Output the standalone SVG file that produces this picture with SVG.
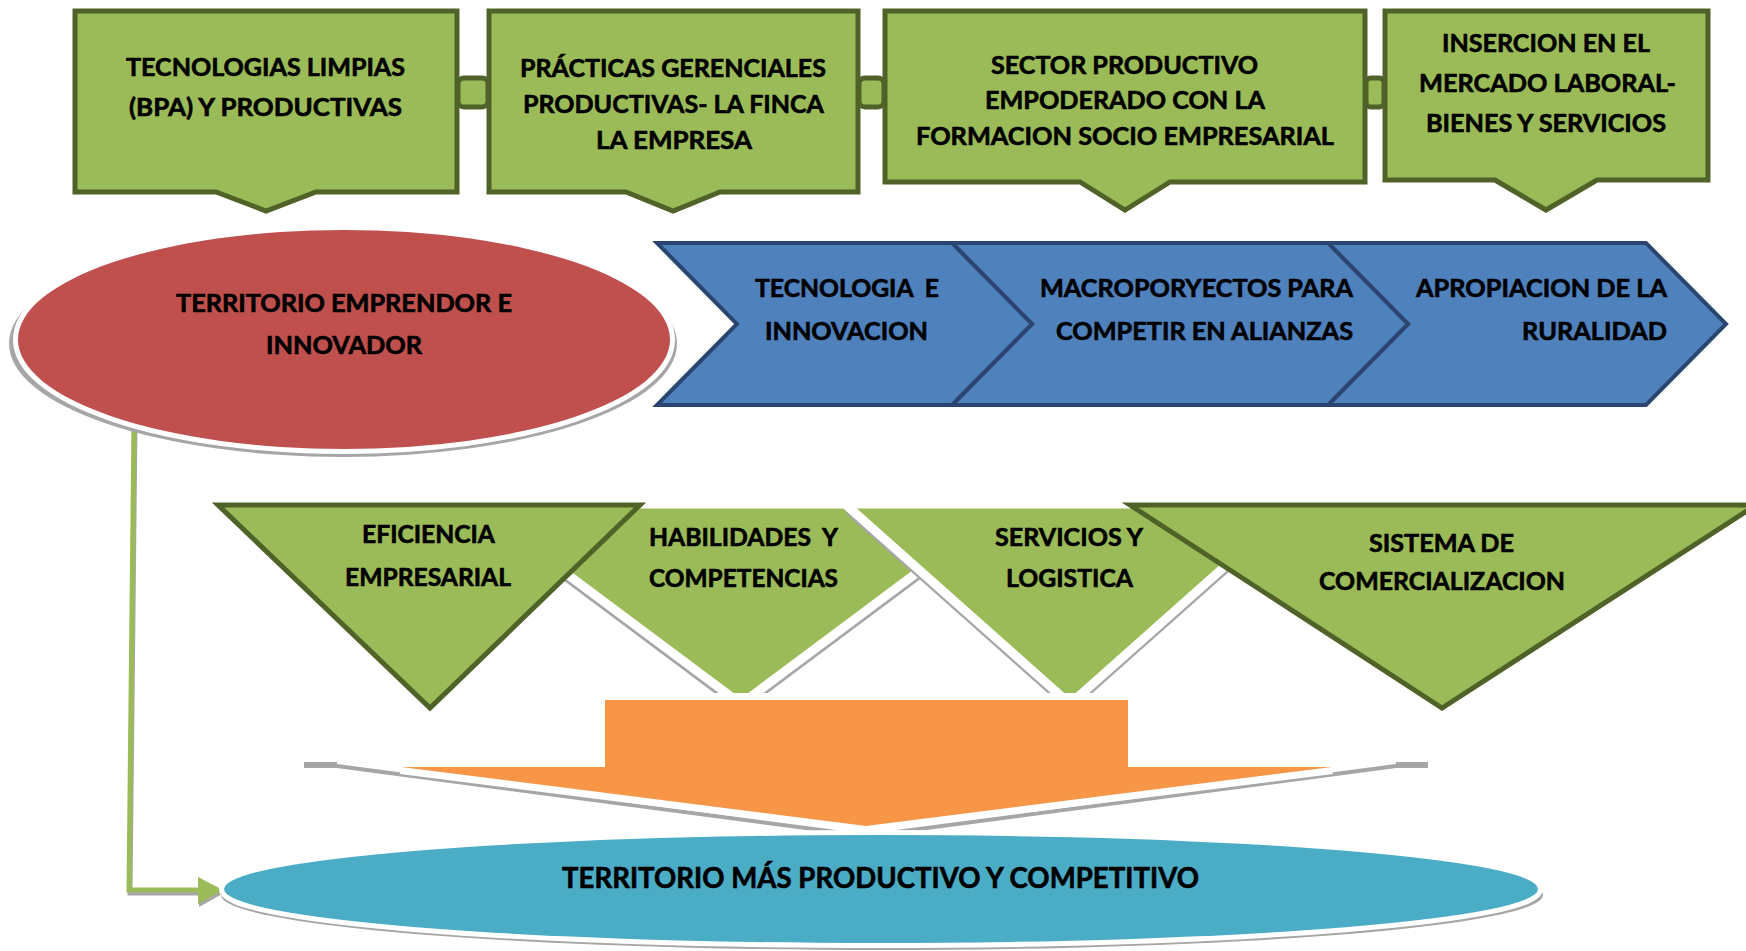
<svg xmlns="http://www.w3.org/2000/svg" width="1746" height="951" viewBox="0 0 1746 951">
<style>
.t{font-family:Lato,"Open Sans","Liberation Sans",sans-serif;font-weight:bold;font-size:24px;fill:#000;stroke:#000;stroke-width:0.6;white-space:pre}
.tb{font-size:28px}
.gbox{fill:#9BBB59;stroke:#4F6228;stroke-width:5;stroke-linejoin:miter}
.chev{fill:#4F81BD;stroke:#2A4670;stroke-width:4;stroke-linejoin:miter}
.tri2{fill:#9BBB59;stroke:#FFFFFF;stroke-width:9;stroke-linejoin:miter}
.shadow{fill:#A6A6A6}
.shline{fill:none;stroke:#A6A6A6;stroke-width:4}
</style>
<rect width="1746" height="951" fill="#FFFFFF"/>

<g id="connectors">
  <path d="M134,420 L129,890 L205,890" fill="none" stroke="#A6A6A6" stroke-width="5" transform="translate(1,3)"/>
  <polygon points="199,880 224,893 199,907" fill="#A6A6A6"/>
  <path d="M134,420 L129,890 L205,890" fill="none" stroke="#9BBB59" stroke-width="5"/>
  <polygon points="198,877 223,890 198,904" fill="#9BBB59"/>
</g>

<g id="node-territorio-emprendor">
  <ellipse cx="343" cy="343.5" rx="334" ry="113.5" class="shadow"/>
  <ellipse cx="344" cy="339.5" rx="326" ry="109.5" fill="#C0504D" stroke="#FFFFFF" stroke-width="10"/>
  <ellipse cx="344" cy="339.5" rx="326" ry="109.5" fill="#C0504D"/>
  <text class="t" x="176" y="312" textLength="336" lengthAdjust="spacingAndGlyphs">TERRITORIO EMPRENDOR E</text>
  <text class="t" x="266" y="353.5" textLength="156" lengthAdjust="spacingAndGlyphs">INNOVADOR</text>
</g>

<g id="node-box1">
  <path class="gbox" d="M75,11 H457 V192 H316 L266,211 L216,192 H75 Z"/>
  <text class="t" x="126" y="76" textLength="279" lengthAdjust="spacingAndGlyphs">TECNOLOGIAS LIMPIAS</text>
  <text class="t" x="129" y="116" textLength="273" lengthAdjust="spacingAndGlyphs">(BPA) Y PRODUCTIVAS</text>
</g>
<g id="node-box2">
  <path class="gbox" d="M489,11 H858 V192 H720 L673,211 L626,192 H489 Z"/>
  <text class="t" x="520" y="77" textLength="306" lengthAdjust="spacingAndGlyphs">PRÁCTICAS GERENCIALES</text>
  <text class="t" x="523" y="113" textLength="301" lengthAdjust="spacingAndGlyphs">PRODUCTIVAS- LA FINCA</text>
  <text class="t" x="596" y="149" textLength="156" lengthAdjust="spacingAndGlyphs">LA EMPRESA</text>
</g>
<g id="node-box3">
  <path class="gbox" d="M885,11 H1365 V182 H1170 L1125,210 L1080,182 H885 Z"/>
  <text class="t" x="991" y="73.5" textLength="267" lengthAdjust="spacingAndGlyphs">SECTOR PRODUCTIVO</text>
  <text class="t" x="985" y="109" textLength="280" lengthAdjust="spacingAndGlyphs">EMPODERADO CON LA</text>
  <text class="t" x="916" y="144.5" textLength="418" lengthAdjust="spacingAndGlyphs">FORMACION SOCIO EMPRESARIAL</text>
</g>
<g id="node-box4">
  <path class="gbox" d="M1385,11 H1708 V180 H1597 L1546,210 L1495,180 H1385 Z"/>
  <text class="t" x="1442" y="51.5" textLength="208" lengthAdjust="spacingAndGlyphs">INSERCION EN EL</text>
  <text class="t" x="1419" y="92" textLength="257" lengthAdjust="spacingAndGlyphs">MERCADO LABORAL-</text>
  <text class="t" x="1426" y="132" textLength="240" lengthAdjust="spacingAndGlyphs">BIENES Y SERVICIOS</text>
</g>
<g id="links">
  <rect x="458" y="78" width="30" height="29" rx="6" class="gbox" stroke-width="4"/>
  <rect x="859" y="78" width="25" height="29" rx="6" class="gbox" stroke-width="4"/>
  <rect x="1366" y="78" width="18" height="29" rx="5" class="gbox" stroke-width="4"/>
</g>

<g id="node-chevron3">
  <polygon class="chev" points="1328,243 1646,243 1726,324 1646,405 1328,405 1408,324"/>
  <text class="t" x="1416" y="297" textLength="251" lengthAdjust="spacingAndGlyphs">APROPIACION DE LA</text>
  <text class="t" x="1522" y="340" textLength="145" lengthAdjust="spacingAndGlyphs">RURALIDAD</text>
</g>
<g id="node-chevron2">
  <polygon class="chev" points="952,243 1328,243 1408,324 1328,405 952,405 1032,324"/>
  <text class="t" x="1040" y="297" textLength="313" lengthAdjust="spacingAndGlyphs">MACROPORYECTOS PARA</text>
  <text class="t" x="1056" y="340" textLength="297" lengthAdjust="spacingAndGlyphs">COMPETIR EN ALIANZAS</text>
</g>
<g id="node-chevron1">
  <polygon class="chev" points="657,243 952,243 1032,324 952,405 657,405 737,324"/>
  <text class="t" x="755" y="297" textLength="184" lengthAdjust="spacingAndGlyphs">TECNOLOGIA  E</text>
  <text class="t" x="765" y="340" textLength="163" lengthAdjust="spacingAndGlyphs">INNOVACION</text>
</g>

<g id="node-habilidades">
  <polygon class="shadow" points="473,513 1009,513 741,713"/>
  <polygon class="tri2" points="473,504 1009,504 741,704"/>
  <text class="t" x="649" y="546" textLength="189" lengthAdjust="spacingAndGlyphs">HABILIDADES  Y</text>
  <text class="t" x="649" y="587" textLength="189" lengthAdjust="spacingAndGlyphs">COMPETENCIAS</text>
</g>
<g id="node-servicios">
  <polygon class="shadow" points="845,513 1295,513 1070,713"/>
  <polygon class="tri2" points="845,504 1295,504 1070,704"/>
  <text class="t" x="995" y="546" textLength="148" lengthAdjust="spacingAndGlyphs">SERVICIOS Y</text>
  <text class="t" x="1006" y="587" textLength="127" lengthAdjust="spacingAndGlyphs">LOGISTICA</text>
</g>
<g id="node-eficiencia">
  <polygon class="gbox" points="218,505 640,505 430,708"/>
  <text class="t" x="362" y="543" textLength="133" lengthAdjust="spacingAndGlyphs">EFICIENCIA</text>
  <text class="t" x="345" y="586" textLength="166" lengthAdjust="spacingAndGlyphs">EMPRESARIAL</text>
</g>
<g id="node-sistema">
  <polygon class="gbox" points="1130,505 1756,505 1442,708"/>
  <text class="t" x="1369" y="552" textLength="145" lengthAdjust="spacingAndGlyphs">SISTEMA DE</text>
  <text class="t" x="1319" y="590" textLength="246" lengthAdjust="spacingAndGlyphs">COMERCIALIZACION</text>
</g>

<g id="node-flecha">
  <path d="M304,766 L337,766 L866,836 L1396,766 L1428,766" class="shline"/>
  <path d="M304,765 H337 M1396,765 H1428" fill="none" stroke="#A6A6A6" stroke-width="6"/>
  <polygon points="605,700 1128,700 1128,767 1332,767 866,826 401,767 605,767" fill="#F79646" stroke="#FFFFFF" stroke-width="14" stroke-linejoin="miter"/>
  <polygon points="605,700 1128,700 1128,767 1332,767 866,826 401,767 605,767" fill="#F79646"/>
</g>

<g id="node-territorio-productivo">
  <ellipse cx="882" cy="895" rx="661" ry="55" class="shadow"/>
  <ellipse cx="881" cy="889" rx="657" ry="54" fill="#4BACC6" stroke="#FFFFFF" stroke-width="10"/>
  <ellipse cx="881" cy="889" rx="657" ry="54" fill="#4BACC6"/>
  <text class="t tb" x="562" y="888" textLength="637" lengthAdjust="spacingAndGlyphs">TERRITORIO MÁS PRODUCTIVO Y COMPETITIVO</text>
</g>
</svg>
